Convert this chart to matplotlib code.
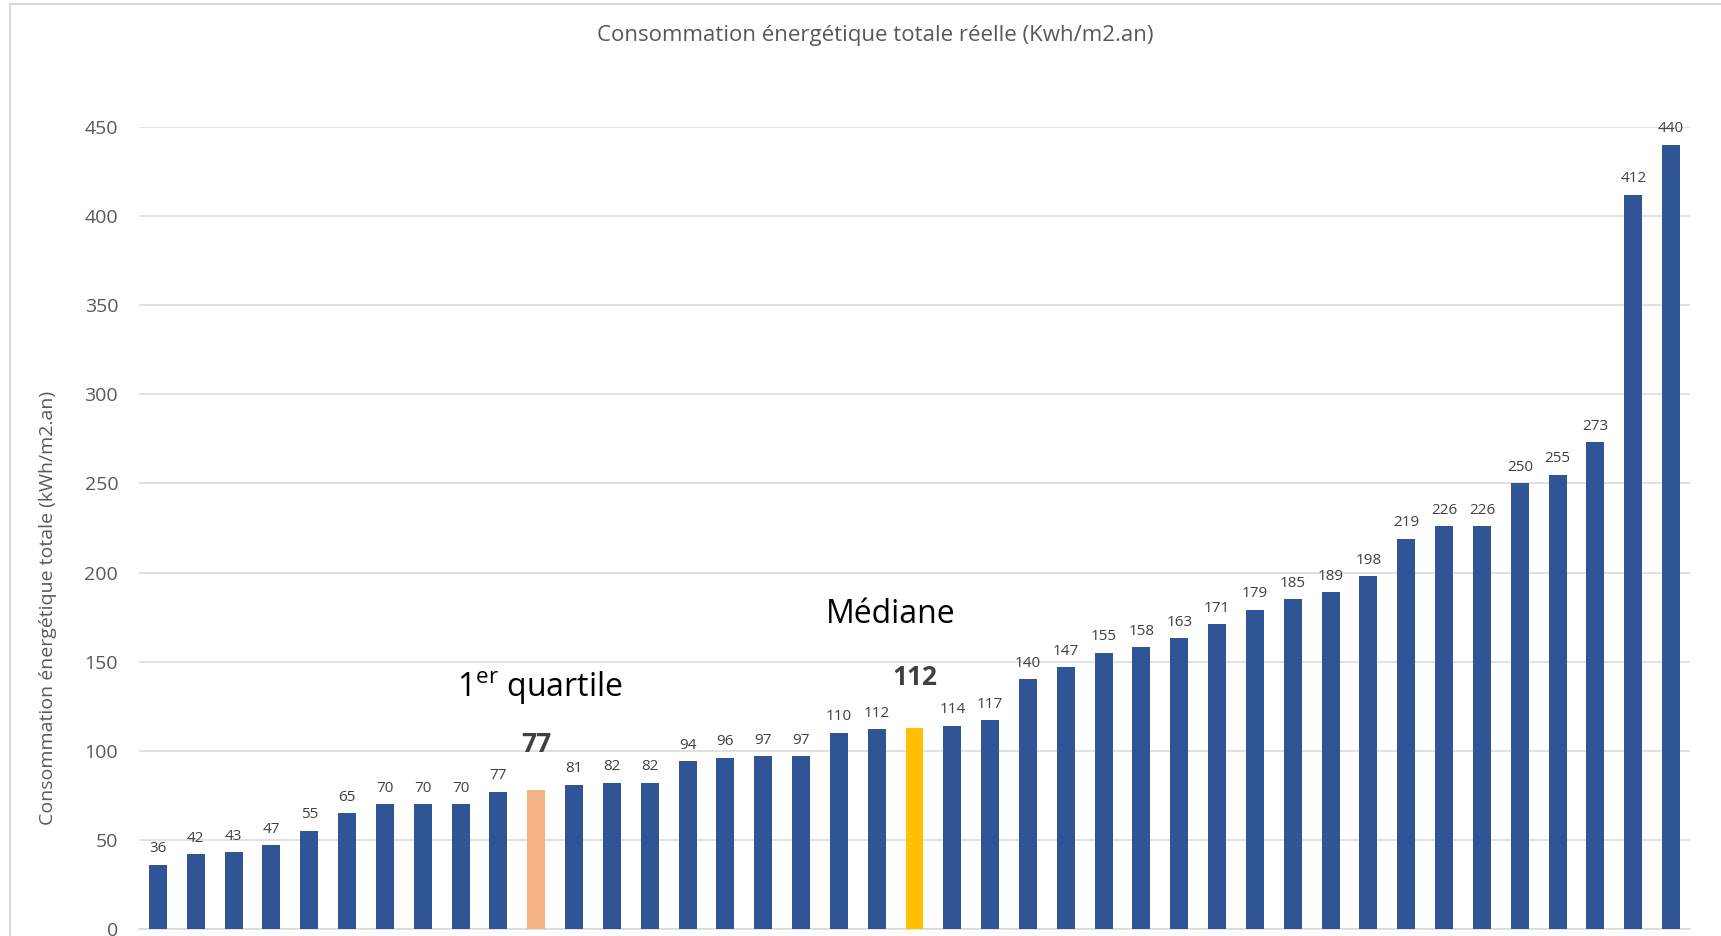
import matplotlib
matplotlib.use("Agg")
import matplotlib.pyplot as plt
from matplotlib.lines import Line2D

plt.rcParams['font.family'] = ['Open Sans', 'DejaVu Sans']
plt.rcParams['mathtext.fontset'] = 'custom'
plt.rcParams['mathtext.rm'] = 'Open Sans'

# Data (sorted building consumptions)
values = [36, 42, 43, 47, 55, 65, 70, 70, 70, 77, 78, 81, 82, 82, 94, 96, 97, 97,
          110, 112, 113, 114, 117, 140, 147, 155, 158, 163, 171, 179, 185, 189,
          198, 219, 226, 226, 250, 255, 273, 412, 440]
labels = ['36', '42', '43', '47', '55', '65', '70', '70', '70', '77', '77', '81',
          '82', '82', '94', '96', '97', '97', '110', '112', '112', '114', '117',
          '140', '147', '155', '158', '163', '171', '179', '185', '189', '198',
          '219', '226', '226', '250', '255', '273', '412', '440']
quartile_idx = 10
median_idx = 20
y_ticks = [0, 50, 100, 150, 200, 250, 300, 350, 400, 450]

blue = '#2F5597'
orange = '#F4B183'
gold = '#FFC000'
grid_col = '#D9D9D9'

colors = [blue] * len(values)
colors[quartile_idx] = orange
colors[median_idx] = gold

fig = plt.figure(figsize=(17.21, 9.36), dpi=100)
ax = fig.add_axes([139 / 1721, 7 / 936, (1690 - 139) / 1721, (929 - 127) / 936])

x = list(range(len(values)))
ax.bar(x, values, width=0.475, color=colors, zorder=3)

ax.set_xlim(-0.5, len(values) - 0.5)
ax.set_ylim(0, 450)
ax.set_yticks(y_ticks)
ax.set_yticklabels([str(t) for t in y_ticks], fontsize=14, color='#595959')
ax.tick_params(axis='y', length=0, pad=15)
ax.set_xticks([])
ax.set_axisbelow(True)
ax.grid(axis='y', color=grid_col, linewidth=1.1)
for s in ['top', 'right', 'left']:
    ax.spines[s].set_visible(False)
ax.spines['bottom'].set_color(grid_col)
ax.spines['bottom'].set_linewidth(1.1)

# Data labels
for i, (v, lab) in enumerate(zip(values, labels)):
    if i in (quartile_idx, median_idx):
        continue
    ax.annotate(lab, (i, v), xytext=(0, 9), textcoords='offset points',
                ha='center', va='baseline', fontsize=11, color='#404040')

ax.annotate(labels[quartile_idx], (quartile_idx, values[quartile_idx]), xytext=(0, 27),
            textcoords='offset points', ha='center', va='baseline',
            fontsize=19, fontweight='bold', color='#404040')
ax.annotate(labels[median_idx], (median_idx, values[median_idx]), xytext=(0, 31),
            textcoords='offset points', ha='center', va='baseline',
            fontsize=19, fontweight='bold', color='#404040')

ax.text(10.1, 130, r'1$^{\mathrm{er}}$ quartile', ha='center', va='baseline',
        fontsize=23, color='black')
ax.text(19.37, 171.5, 'Médiane', ha='center', va='baseline', fontsize=23, color='black')

fig.text(875 / 1721, 1 - 36 / 936, 'Consommation énergétique totale réelle (Kwh/m2.an)',
         ha='center', va='center', fontsize=16, color='#595959')
fig.text(48 / 1721, 1 - 608 / 936, 'Consommation énergétique totale (kWh/m2.an)',
         rotation=90, ha='center', va='center', fontsize=14, color='#595959')

# chart border (left and top edges visible)
fig.add_artist(Line2D([10 / 1721, 10 / 1721], [0, 1 - 4 / 936], transform=fig.transFigure,
                      color=grid_col, linewidth=1.5))
fig.add_artist(Line2D([10 / 1721, 1], [1 - 4 / 936, 1 - 4 / 936], transform=fig.transFigure,
                      color=grid_col, linewidth=1.5))

fig.savefig('out.png', dpi=100)
